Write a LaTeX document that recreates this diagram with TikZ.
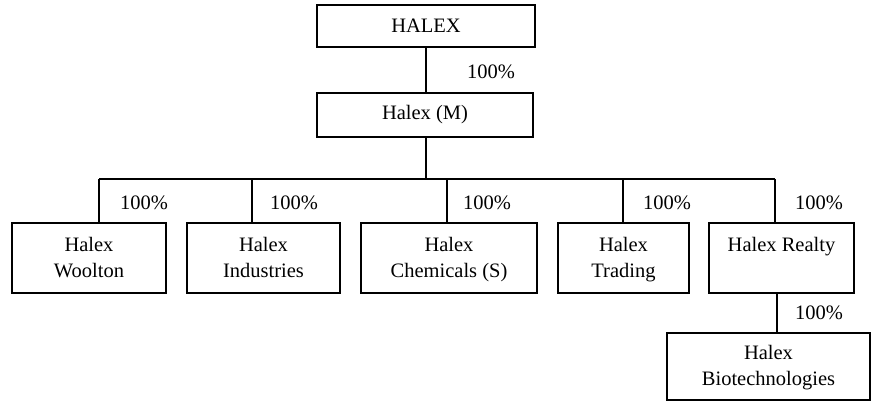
\documentclass[tikz,border=0pt]{standalone}
\usepackage{fontspec}
\setmainfont{Liberation Serif}
\newcommand{\ls}{\rule[-7pt]{0pt}{26pt}}
\tikzset{
  orgbox/.style={draw, line width=1.7pt, inner sep=0pt, align=center,
    font=\fontsize{20.5}{26}\selectfont},
  pct/.style={anchor=west, inner sep=0pt, font=\fontsize{20.5}{26}\selectfont},
  conn/.style={line width=1.3pt}
}
\begin{document}
\begin{tikzpicture}[x=1pt,y=-1pt]
\fill[white] (0,0) rectangle (872,403);
\useasboundingbox (0,0) rectangle (872,403);
% boxes
\node[orgbox, minimum width=218pt, minimum height=42pt] (halex) at (426,26) {HALEX};
\node[orgbox, minimum width=216pt, minimum height=44pt] (m) at (425,115) {Halex (M)};
\node[orgbox, minimum width=154pt, minimum height=70pt] (wool) at (89,258) {\ls Halex\\\ls Woolton};
\node[orgbox, minimum width=153pt, minimum height=70pt] (ind) at (263.5,258) {\ls Halex\\\ls Industries};
\node[orgbox, minimum width=176pt, minimum height=70pt] (chem) at (449,258) {\ls Halex\\\ls Chemicals (S)};
\node[orgbox, minimum width=131pt, minimum height=70pt] (trad) at (623.5,258) {\ls Halex\\\ls Trading};
\node[orgbox, minimum width=145pt, minimum height=70pt] (real) at (781.5,258) {\ls Halex Realty\\\ls};
\node[orgbox, minimum width=203pt, minimum height=67pt] (bio) at (768.5,366.5) {\ls Halex\\\ls Biotechnologies};
% bus coordinates
\coordinate (mt) at (426,47);
\coordinate (mb) at (426,179);
\coordinate (jw) at (99,179);
\coordinate (ji) at (252,179);
\coordinate (jc) at (447,179);
\coordinate (jt) at (623,179);
\coordinate (jr) at (775,179);
\coordinate (jb) at (777,293);
% connectors
\draw[conn] (mt) -- (mt |- m.north);
\draw[conn] (mb |- m.south) -- (mb);
\draw[conn] (jw) -- (jr);
\draw[conn] (jw) -- (jw |- wool.north);
\draw[conn] (ji) -- (ji |- ind.north);
\draw[conn] (jc) -- (jc |- chem.north);
\draw[conn] (jt) -- (jt |- trad.north);
\draw[conn] (jr) -- (jr |- real.north);
\draw[conn] (jb |- real.south) -- (jb |- bio.north);
% labels
\node[pct] (p0) at (467,72) {100\%};
\node[pct] (p1) at (120,203) {100\%};
\node[pct] (p2) at (270,203) {100\%};
\node[pct] (p3) at (463,203) {100\%};
\node[pct] (p4) at (643,203) {100\%};
\node[pct] (p5) at (795,203) {100\%};
\node[pct] (p6) at (795,313) {100\%};
\end{tikzpicture}
\end{document}
